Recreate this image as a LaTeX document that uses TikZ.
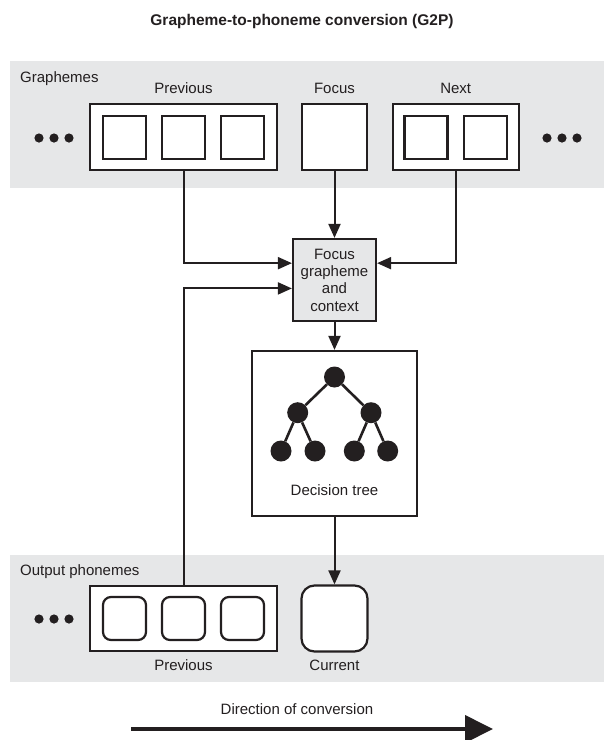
\documentclass[tikz,border=0pt]{standalone}
\usepackage{fontspec}
\setmainfont{Liberation Sans}
\usetikzlibrary{arrows.meta,calc}
\definecolor{bandgray}{HTML}{E6E7E8}
\definecolor{ink}{HTML}{231F20}

\begin{document}
\begin{tikzpicture}[x=1pt,y=-1pt,color=ink,font=\fontsize{15}{17.3}\selectfont,
  box/.style={draw=ink,line width=2.2pt,fill=white,inner sep=0pt},
  sq/.style={box,minimum width=43pt,minimum height=43pt},
  rsq/.style={sq,rounded corners=8pt},
  lab/.style={anchor=base,inner sep=0pt},
  arr/.style={line width=2pt,-{Triangle[length=14pt,width=12pt]}},
  leaf/.style={circle,fill=ink,inner sep=0pt,minimum size=21pt}]
  \useasboundingbox (0,0) rectangle (604,740);
  \node[lab,font=\fontsize{15.5}{18}\selectfont\bfseries] (title) at (302,25) {Grapheme-to-phoneme conversion (G2P)};

  \fill[bandgray] (10,61) rectangle (604,188);
  \fill[bandgray] (10,555) rectangle (604,682);
  \node[lab,anchor=base west] (graph) at (20,82) {Graphemes};
  \node[lab,anchor=base west] (outp) at (20,575) {Output phonemes};

  \node[lab] (prevGl) at (183.5,93) {Previous};
  \node[lab] (focl) at (334.5,93) {Focus};
  \node[lab] (nextl) at (455.7,93) {Next};
  \node[box,minimum width=187pt,minimum height=66pt] (prevG) at (183.5,137) {};
  \node[box,minimum width=126pt,minimum height=66pt] (nextG) at (455.7,137) {};
  \node[box,minimum width=65pt,minimum height=66pt] (foc) at (334.5,137) {};
  \foreach \x/\n in {124.5/1,183.5/2,242.5/3} {
    \node[sq] (g\n) at (\x,137.5) {};
  }
  \foreach \x/\n in {426/1,485.5/2} {
    \node[sq] (gn\n) at (\x,137.5) {};
  }
  \foreach \x in {39,54,69} {
    \fill (\x,138) circle (4.6pt);
    \fill (\x,619) circle (4.6pt);
  }
  \foreach \x in {547,562,577} {
    \fill (\x,138) circle (4.6pt);
  }

  \node[box,fill=bandgray,minimum width=83pt,minimum height=82pt,align=center] (ctx) at (334.5,280) {Focus\\grapheme\\and\\context};
  \node[box,minimum width=165pt,minimum height=165pt] (tree) at (334.5,433.5) {};
  \node[leaf] (t1) at (334.5,377) {};
  \node[leaf] (t2) at (297.7,412.7) {};
  \node[leaf] (t3) at (371,412.7) {};
  \node[leaf] (t4) at (281,451) {};
  \node[leaf] (t5) at (315,451) {};
  \node[leaf] (t6) at (354.3,451) {};
  \node[leaf] (t7) at (387.7,451) {};
  \draw[line width=2.6pt] (t1) -- (t2) (t1) -- (t3) (t2) -- (t4) (t2) -- (t5) (t3) -- (t6) (t3) -- (t7);
  \node[lab] (treel) at (334.5,495) {Decision tree};

  \node[box,minimum width=187pt,minimum height=65pt] (prevP) at (183.5,618.5) {};
  \foreach \x/\n in {124.5/1,183.5/2,242.5/3} {
    \node[rsq] (p\n) at (\x,618.5) {};
  }
  \node[box,rounded corners=13pt,minimum width=66pt,minimum height=66pt] (cur) at (334.5,618.5) {};
  \node[lab] (prevPl) at (183.5,670) {Previous};
  \node[lab] (curl) at (334.5,670) {Current};

  \draw[arr] (prevG.south) |- ($(ctx.north west)!0.3!(ctx.south west)$);
  \draw[arr] (nextG.south) |- ($(ctx.north east)!0.3!(ctx.south east)$);
  \draw[arr] (foc.south) -- (ctx.north);
  \draw[arr] (prevP.north) |- ($(ctx.north west)!0.6!(ctx.south west)$);
  \draw[arr] (ctx.south) -- (tree.north);
  \draw[arr] (tree.south) -- (cur.north);

  \node[lab] (dirl) at (297,714) {Direction of conversion};
  \coordinate (dirA) at (131,729);
  \coordinate (dirB) at (493,729);
  \draw[line width=4pt,-{Triangle[length=28pt,width=27pt]}] (dirA) -- (dirB);
\end{tikzpicture}
\end{document}
